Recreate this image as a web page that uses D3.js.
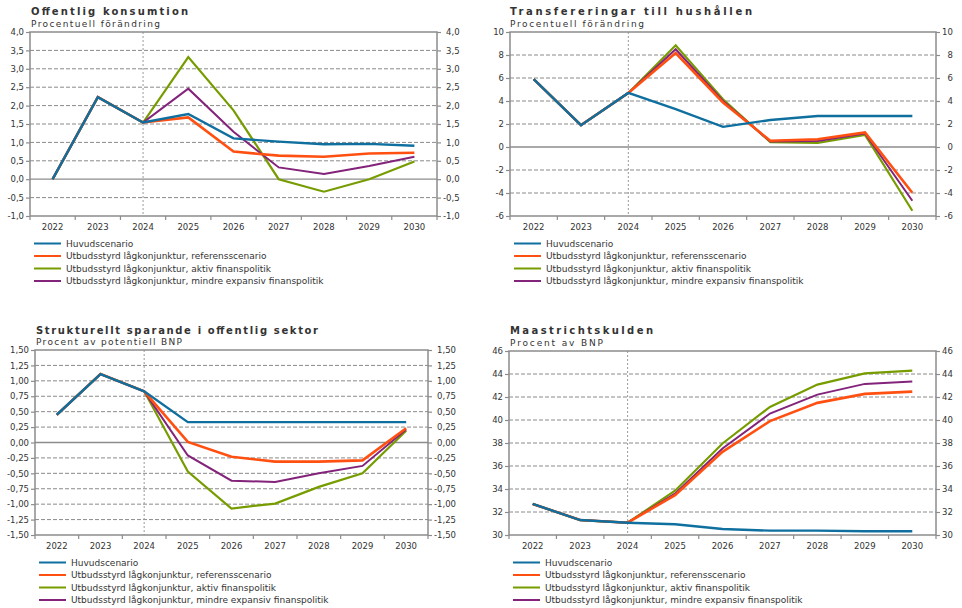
<!DOCTYPE html>
<html lang="sv">
<head>
<meta charset="utf-8">
<script src="https://cdn.jsdelivr.net/npm/d3@7"></script>
<style>
  html, body { margin: 0; padding: 0; background: #fff; }
  svg { display: block; font-family: "DejaVu Sans", Verdana, sans-serif; }
</style>
</head>
<body>
<svg id="chart" width="962" height="608"></svg>
<script>
// Years on the horizontal axis
const years = ["2022", "2023", "2024", "2025", "2026", "2027", "2028", "2029", "2030"];

// Scenario names (legend) and line colours
const scenarioNames = [
  "Huvudscenario",
  "Utbudsstyrd lågkonjunktur, referensscenario",
  "Utbudsstyrd lågkonjunktur, aktiv finanspolitik",
  "Utbudsstyrd lågkonjunktur, mindre expansiv finanspolitik"
];
const scenarioColors = ["#0f6f9f", "#ff5011", "#779c00", "#83237a"];

// Offentlig konsumtion, procentuell förändring
const konsumtionHuvud  = [0.00, 2.23, 1.54, 1.77, 1.11, 1.02, 0.95, 0.96, 0.91];
const konsumtionRef    = [0.00, 2.23, 1.54, 1.68, 0.75, 0.64, 0.61, 0.70, 0.72];
const konsumtionAktiv  = [0.00, 2.23, 1.54, 3.32, 1.87, 0.00, -0.34, 0.00, 0.48];
const konsumtionMindre = [0.00, 2.23, 1.54, 2.46, 1.29, 0.32, 0.14, 0.36, 0.61];

// Transfereringar till hushållen, procentuell förändring
const transferHuvud  = [5.9, 1.9, 4.7, 3.3, 1.75, 2.35, 2.7, 2.7, 2.7];
const transferRef    = [5.9, 1.9, 4.7, 8.17, 3.87, 0.54, 0.68, 1.26, -3.98];
const transferAktiv  = [5.9, 1.9, 4.7, 8.84, 4.15, 0.42, 0.36, 1.05, -5.54];
const transferMindre = [5.9, 1.9, 4.7, 8.50, 4.00, 0.48, 0.52, 1.17, -4.67];

// Strukturellt sparande i offentlig sektor, procent av potentiell BNP
const sparandeHuvud  = [0.45, 1.11, 0.83, 0.33, 0.33, 0.33, 0.33, 0.33, 0.33];
const sparandeRef    = [0.45, 1.11, 0.83, 0.01, -0.23, -0.31, -0.31, -0.29, 0.23];
const sparandeAktiv  = [0.45, 1.11, 0.83, -0.47, -1.07, -0.99, -0.72, -0.50, 0.19];
const sparandeMindre = [0.45, 1.11, 0.83, -0.21, -0.62, -0.64, -0.50, -0.38, 0.21];

// Maastrichtskulden, procent av BNP
const skuldHuvud  = [32.7, 31.3, 31.07, 30.93, 30.52, 30.38, 30.38, 30.32, 30.32];
const skuldRef    = [32.7, 31.3, 31.07, 33.47, 37.23, 39.90, 41.49, 42.27, 42.47];
const skuldAktiv  = [32.7, 31.3, 31.07, 33.85, 37.96, 41.14, 43.08, 44.06, 44.29];
const skuldMindre = [32.7, 31.3, 31.07, 33.60, 37.52, 40.56, 42.21, 43.14, 43.34];

// Y tick values
const konsumtionTicks = [-1.0, -0.5, 0.0, 0.5, 1.0, 1.5, 2.0, 2.5, 3.0, 3.5, 4.0];
const transferTicks   = [-6, -4, -2, 0, 2, 4, 6, 8, 10];
const sparandeTicks   = [-1.5, -1.25, -1.0, -0.75, -0.5, -0.25, 0.0, 0.25, 0.5, 0.75, 1.0, 1.25, 1.5];
const skuldTicks      = [30, 32, 34, 36, 38, 40, 42, 44, 46];

const forecastStart = "2024";

const sv = d3.formatLocale({ decimal: ",", thousands: " ", grouping: [3], currency: ["", " kr"], minus: "-" });

const panels = [
  { title: "Offentlig konsumtion", titleW: 157, subtitle: "Procentuell förändring", subW: 129,
    tx: 31, ty: 15, sy: 27, box: { l: 30, r: 437, t: 32, b: 216 },
    ticks: konsumtionTicks, fmt: sv.format(".1f"),
    series: [konsumtionHuvud, konsumtionRef, konsumtionAktiv, konsumtionMindre] },
  { title: "Transfereringar till hushållen", titleW: 242, subtitle: "Procentuell förändring", subW: 134,
    tx: 510, ty: 15, sy: 27, box: { l: 510, r: 936, t: 32, b: 216 },
    ticks: transferTicks, fmt: sv.format("d"),
    series: [transferHuvud, transferRef, transferAktiv, transferMindre] },
  { title: "Strukturellt sparande i offentlig sektor", titleW: 282, subtitle: "Procent av potentiell BNP", subW: 146,
    tx: 36, ty: 334, sy: 345, box: { l: 35, r: 428, t: 350, b: 535 },
    ticks: sparandeTicks, fmt: sv.format(".2f"),
    series: [sparandeHuvud, sparandeRef, sparandeAktiv, sparandeMindre] },
  { title: "Maastrichtskulden", titleW: 143, subtitle: "Procent av BNP", subW: 93,
    tx: 510, ty: 334, sy: 346, box: { l: 509, r: 936, t: 351, b: 535 },
    ticks: skuldTicks, fmt: sv.format("d"),
    series: [skuldHuvud, skuldRef, skuldAktiv, skuldMindre] }
];

const svg = d3.select("#chart");
const axisColor = "#8c8c8c";
const textColor = "#333";
const lineWidths = [2.4, 2.6, 2.2, 2.0];
const drawOrder = [2, 3, 1, 0];

panels.forEach(p => {
  const g = svg.append("g");
  const { l, r, t, b } = p.box;

  const x = d3.scaleBand().domain(years).range([l, r]).padding(0);
  const y = d3.scaleLinear().domain(d3.extent(p.ticks)).range([b, t]);
  const cx = d => x(d) + x.bandwidth() / 2;

  // Title and subtitle
  g.append("text").attr("x", p.tx).attr("y", p.ty)
    .attr("font-size", 10).attr("font-weight", "bold").attr("fill", "#333")
    .attr("textLength", p.titleW).attr("lengthAdjust", "spacing")
    .text(p.title);
  g.append("text").attr("x", p.tx).attr("y", p.sy)
    .attr("font-size", 9).attr("fill", "#333")
    .attr("textLength", p.subW).attr("lengthAdjust", "spacing")
    .text(p.subtitle);

  // Dashed horizontal grid lines
  const inner = p.ticks.filter(v => v !== y.domain()[0] && v !== y.domain()[1] && v !== 0);
  g.selectAll(".grid").data(inner).join("line")
    .attr("x1", l).attr("x2", r)
    .attr("y1", d => y(d)).attr("y2", d => y(d))
    .attr("stroke", "#8a8a8a").attr("stroke-width", 1).attr("stroke-dasharray", "4,2");

  // Zero line
  if (y.domain()[0] < 0 && y.domain()[1] > 0) {
    g.append("line").attr("x1", l).attr("x2", r).attr("y1", y(0)).attr("y2", y(0))
      .attr("stroke", axisColor).attr("stroke-width", 1.3);
  }

  // Forecast start marker
  g.append("line").attr("x1", cx(forecastStart)).attr("x2", cx(forecastStart))
    .attr("y1", t).attr("y2", b)
    .attr("stroke", "#9a9a9a").attr("stroke-width", 1).attr("stroke-dasharray", "2,2");

  // Left and right value axes
  const leftAxis = d3.axisLeft(y).tickValues(p.ticks).tickFormat(p.fmt).tickSize(4).tickPadding(2);
  const rightAxis = d3.axisRight(y).tickValues(p.ticks).tickFormat(p.fmt).tickSize(4).tickPadding(2);
  const la = g.append("g").attr("transform", `translate(${l},0)`).call(leftAxis);
  const ra = g.append("g").attr("transform", `translate(${r},0)`).call(rightAxis);
  [la, ra].forEach(a => {
    a.select(".domain").remove();
    a.selectAll("line").attr("stroke", axisColor).attr("stroke-width", 1.2);
    a.selectAll("text").attr("font-size", 8.5).attr("fill", textColor)
      .attr("font-family", "DejaVu Sans, Verdana, sans-serif");
  });
  // right-axis labels are right-aligned in a common column
  const rTexts = ra.selectAll("text");
  let maxW = 0;
  rTexts.each(function () { maxW = Math.max(maxW, this.getComputedTextLength()); });
  rTexts.attr("text-anchor", "end").attr("x", 6 + maxW);

  // Year axis with ticks at category boundaries
  const bottom = g.append("g").attr("transform", `translate(0,${b})`);
  const edges = years.map(d => x(d)).concat([r]);
  bottom.selectAll("line").data(edges).join("line")
    .attr("x1", d => d).attr("x2", d => d).attr("y1", 0).attr("y2", 4)
    .attr("stroke", axisColor).attr("stroke-width", 1.2);
  bottom.selectAll("text").data(years).join("text")
    .attr("x", d => cx(d)).attr("y", 13.5).attr("text-anchor", "middle")
    .attr("font-size", 8.5).attr("fill", textColor).text(d => d);

  // Plot frame
  g.append("rect").attr("x", l).attr("y", t).attr("width", r - l).attr("height", b - t)
    .attr("fill", "none").attr("stroke", axisColor).attr("stroke-width", 1.5);

  // Scenario lines
  const line = d3.line().x((d, i) => cx(years[i])).y(d => y(d));
  drawOrder.forEach(k => {
    g.append("path").datum(p.series[k]).attr("d", line)
      .attr("fill", "none").attr("stroke", scenarioColors[k])
      .attr("stroke-width", lineWidths[k]).attr("stroke-linejoin", "miter");
  });

  // Legend
  const lg = g.append("g");
  scenarioNames.forEach((name, k) => {
    const ly = b + 27.5 + k * 12.5;
    lg.append("line").attr("x1", l + 4).attr("x2", l + 31).attr("y1", ly).attr("y2", ly)
      .attr("stroke", scenarioColors[k]).attr("stroke-width", 2);
    lg.append("text").attr("x", l + 36).attr("y", ly + 3.2)
      .attr("font-size", 9).attr("fill", textColor).text(name);
  });
});
</script>
</body>
</html>
